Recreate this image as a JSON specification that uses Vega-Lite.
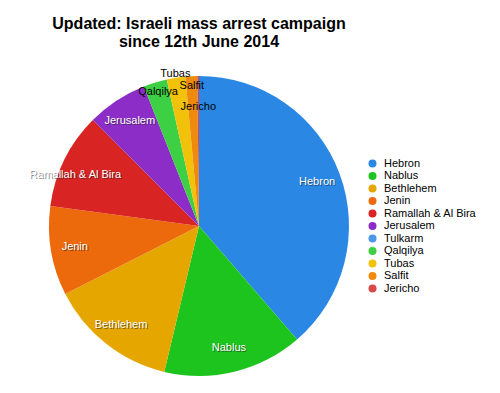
{
  "$schema": "https://vega.github.io/schema/vega-lite/v6.json",
  "width": 398,
  "height": 334,
  "autosize": {"type": "none"},
  "padding": {"top": 59, "left": 0, "right": 102, "bottom": 0},
  "background": "white",
  "title": {
    "text": ["Updated: Israeli mass arrest campaign", "since 12th June 2014"],
    "fontSize": 16,
    "font": "Liberation Sans",
    "fontWeight": "bold",
    "color": "black",
    "anchor": "middle",
    "lineHeight": 18,
    "offset": 9
  },
  "config": {"view": {"stroke": null}},
  "data": {
    "values": [
      {"district": "Hebron", "arrests": 213, "rank": 1},
      {"district": "Nablus", "arrests": 83, "rank": 2},
      {"district": "Bethlehem", "arrests": 76, "rank": 3},
      {"district": "Jenin", "arrests": 53, "rank": 4},
      {"district": "Ramallah & Al Bira", "arrests": 57, "rank": 5},
      {"district": "Jerusalem", "arrests": 36, "rank": 6},
      {"district": "Tulkarm", "arrests": 0, "rank": 7},
      {"district": "Qalqilya", "arrests": 14, "rank": 8},
      {"district": "Tubas", "arrests": 11, "rank": 9},
      {"district": "Salfit", "arrests": 7, "rank": 10},
      {"district": "Jericho", "arrests": 1, "rank": 11}
    ]
  },
  "encoding": {
    "theta": {"field": "arrests", "type": "quantitative", "stack": true},
    "order": {"field": "rank", "type": "quantitative"}
  },
  "layer": [
    {
      "mark": {"type": "arc", "outerRadius": 150, "stroke": null},
      "encoding": {
        "color": {
          "field": "district",
          "type": "nominal",
          "sort": null,
          "scale": {
            "domain": ["Hebron", "Nablus", "Bethlehem", "Jenin", "Ramallah & Al Bira", "Jerusalem", "Tulkarm", "Qalqilya", "Tubas", "Salfit", "Jericho"],
            "range": ["#2a88e4", "#1ec41e", "#e6a600", "#ec6a0c", "#d92424", "#8b2dc6", "#4a98e6", "#3dd044", "#f2c20a", "#f08a0c", "#d84a4a"]
          },
          "legend": {
            "title": null,
            "orient": "none",
            "legendX": 367,
            "legendY": 99,
            "symbolType": "circle",
            "symbolSize": 64,
            "symbolStrokeWidth": 0,
            "labelFontSize": 11,
            "labelFont": "Liberation Sans",
            "labelColor": "black",
            "labelOffset": 6,
            "rowPadding": 0.5
          }
        }
      }
    },
    {
      "mark": {"type": "text", "radius": 126, "font": "Liberation Sans", "fontSize": 11, "dx": 1, "dy": 1, "color": "#222222", "opacity": 0.55},
      "encoding": {
        "text": {"condition": {"test": "indexof(['Hebron','Nablus','Bethlehem','Jenin','Jerusalem'], datum.district) >= 0", "field": "district"}, "value": ""}
      }
    },
    {
      "mark": {"type": "text", "radius": 126, "font": "Liberation Sans", "fontSize": 11, "color": "white"},
      "encoding": {
        "text": {"condition": {"test": "indexof(['Hebron','Nablus','Bethlehem','Jenin','Jerusalem'], datum.district) >= 0", "field": "district"}, "value": ""}
      }
    },
    {
      "mark": {"type": "text", "radius": 137, "font": "Liberation Sans", "fontSize": 11, "dx": 0, "dy": 11, "color": "#222222", "opacity": 0.55},
      "encoding": {
        "text": {"condition": {"test": "datum.district === 'Ramallah & Al Bira'", "field": "district"}, "value": ""}
      }
    },
    {
      "mark": {"type": "text", "radius": 137, "font": "Liberation Sans", "fontSize": 11, "dx": -1, "dy": 10, "color": "white"},
      "encoding": {
        "text": {"condition": {"test": "datum.district === 'Ramallah & Al Bira'", "field": "district"}, "value": ""}
      }
    },
    {
      "mark": {"type": "text", "radius": 140, "font": "Liberation Sans", "fontSize": 11, "color": "black"},
      "encoding": {
        "text": {"condition": {"test": "indexof(['Qalqilya','Salfit'], datum.district) >= 0", "field": "district"}, "value": ""}
      }
    },
    {
      "mark": {"type": "text", "radius": 154, "font": "Liberation Sans", "fontSize": 11, "color": "black"},
      "encoding": {
        "text": {"condition": {"test": "datum.district === 'Tubas'", "field": "district"}, "value": ""}
      }
    },
    {
      "mark": {"type": "text", "radius": 119, "font": "Liberation Sans", "fontSize": 11, "color": "black"},
      "encoding": {
        "text": {"condition": {"test": "datum.district === 'Jericho'", "field": "district"}, "value": ""}
      }
    }
  ]
}
